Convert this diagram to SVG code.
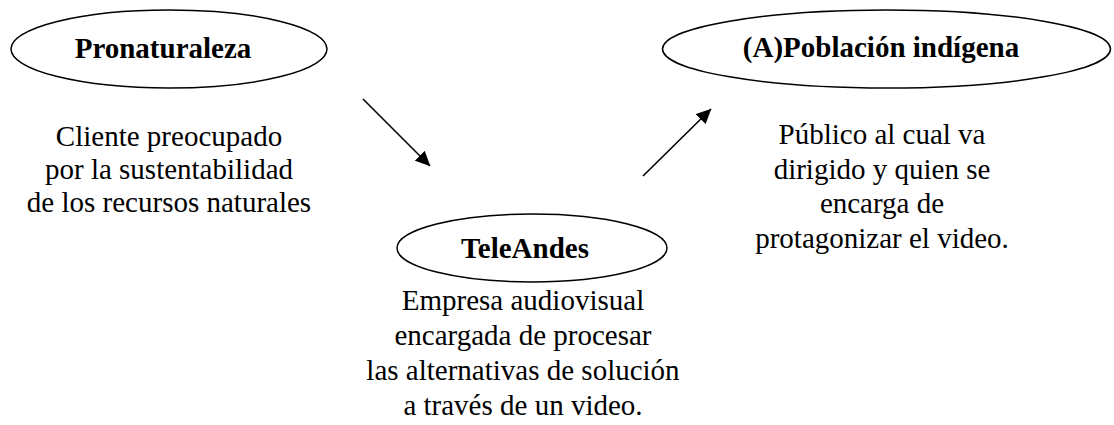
<svg xmlns="http://www.w3.org/2000/svg" width="1114" height="425" viewBox="0 0 1114 425">
<style>
.node ellipse{fill:#fff;stroke:#000;stroke-width:1.5}
.t{font-family:'Liberation Serif','Times New Roman','DejaVu Serif',serif;font-size:29px;fill:#000;text-anchor:middle}
.b{font-weight:bold}
.conn line{stroke:#000;stroke-width:1.6;marker-end:url(#ah)}
</style>
<defs>
<marker id="ah" markerWidth="15" markerHeight="14" refX="14.5" refY="7" orient="auto" markerUnits="userSpaceOnUse" viewBox="0 0 15 14">
<path d="M0,0 L15,7 L0,14 z" fill="#000"/>
</marker>
</defs>
<rect width="1114" height="425" fill="#fff"/>
<g id="pronaturaleza" class="node">
<ellipse cx="169" cy="49" rx="158" ry="39"/>
<text class="t b" x="163" y="58">Pronaturaleza</text>
<text class="t" x="169" y="146">Cliente preocupado</text>
<text class="t" x="169" y="179">por la sustentabilidad</text>
<text class="t" x="169" y="212">de los recursos naturales</text>
</g>
<g id="poblacion" class="node">
<ellipse cx="886.5" cy="49" rx="224" ry="39"/>
<text class="t b" x="881" y="57">(A)Población indígena</text>
<text class="t" x="882" y="144">Público al cual va</text>
<text class="t" x="882" y="179">dirigido y quien se</text>
<text class="t" x="882" y="213">encarga de</text>
<text class="t" x="882" y="248">protagonizar el video.</text>
</g>
<g id="teleandes" class="node">
<ellipse cx="532" cy="248" rx="135" ry="34"/>
<text class="t b" x="525" y="258">TeleAndes</text>
<text class="t" x="523" y="310">Empresa audiovisual</text>
<text class="t" x="523" y="345">encargada de procesar</text>
<text class="t" x="523" y="380">las alternativas de solución</text>
<text class="t" x="523" y="415">a través de un video.</text>
</g>
<g id="connectors" class="conn">
<line x1="363" y1="99" x2="430" y2="166"/>
<line x1="643" y1="176" x2="711" y2="109"/>
</g>
</svg>
